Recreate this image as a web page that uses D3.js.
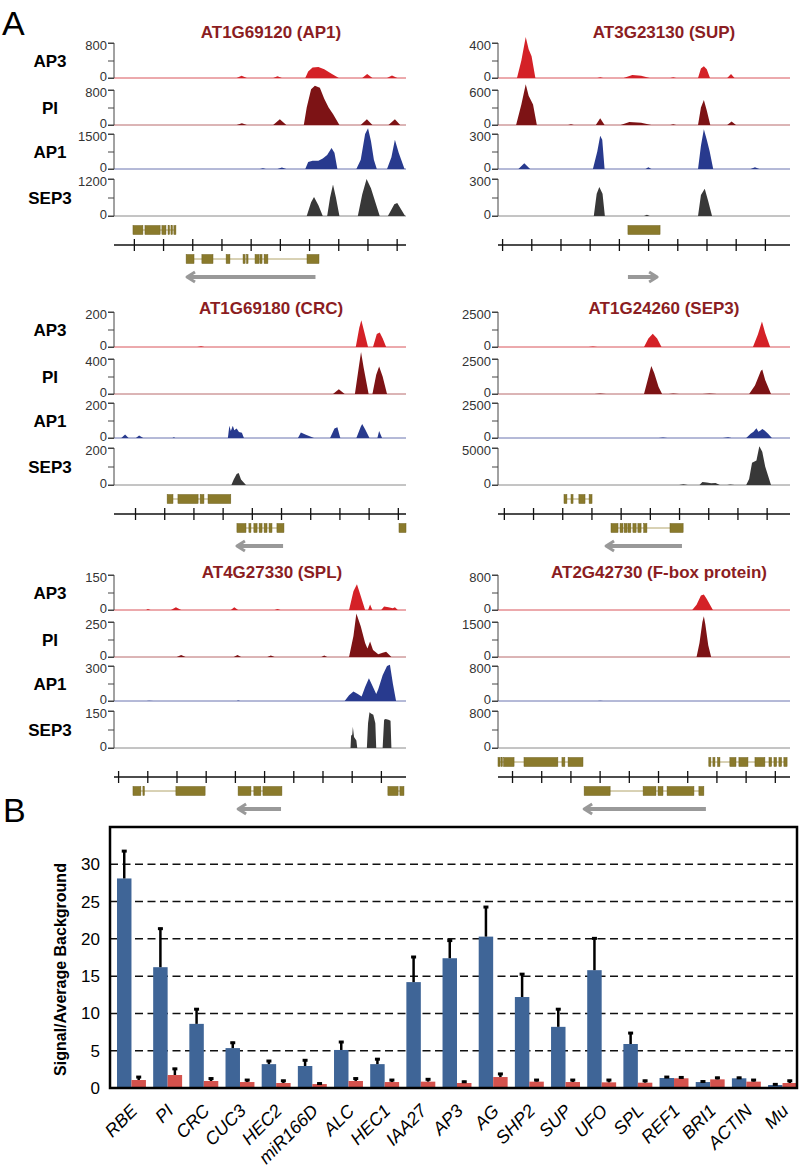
<!DOCTYPE html>
<html><head><meta charset="utf-8">
<script src="https://cdn.jsdelivr.net/npm/d3@7"></script>
<style>
body{margin:0;background:#fff}
svg{display:block}
text{font-family:"Liberation Sans",Arial,sans-serif}
</style>
</head><body>
<svg id="c" width="799" height="1169"></svg>
<script>
// ---------------- DATA: panel A ----------------
const trackNames = ["AP3","PI","AP1","SEP3"];
const panelTitles = ["AT1G69120 (AP1)","AT3G23130 (SUP)","AT1G69180 (CRC)","AT1G24260 (SEP3)","AT4G27330 (SPL)","AT2G42730 (F-box protein)"];
const axisMax = [[800,800,1500,1200],[400,600,300,300],[200,400,200,200],[2500,2500,2500,5000],[150,250,300,150],[800,1500,800,800]];
// genomic position of first ruler tick (kb, region spans 0-10)
const rulerStart = [0.68,0.14,0.72,0.2,0.14,0.48];

// coverage profiles [position kb, reads] for AP3, PI, AP1, SEP3
const sigAP1 = [
 [[0,0],[4.2,0],[4.37,50],[4.55,0],[5.45,0],[5.6,40],[5.75,0],[6.55,0],[6.65,150],[6.8,240],[7.0,250],[7.2,200],[7.45,100],[7.7,0],[8.5,0],[8.67,90],[8.85,0],[9.35,0],[9.52,60],[9.7,0],[10,0]],
 [[0,0],[4.2,0],[4.38,40],[4.55,0],[5.45,0],[5.68,130],[5.9,0],[6.5,0],[6.6,400],[6.75,820],[6.88,900],[7.05,850],[7.2,600],[7.35,400],[7.5,250],[7.72,0],[8.45,0],[8.66,130],[8.85,0],[9.4,0],[9.62,130],[9.8,0],[10,0]],
 [[0,0],[5.0,0],[5.1,30],[5.2,0],[5.6,0],[5.75,60],[5.9,0],[6.55,0],[6.65,300],[6.8,350],[7.0,350],[7.15,450],[7.3,600],[7.45,900],[7.55,700],[7.65,0],[8.3,0],[8.45,400],[8.6,1500],[8.7,1750],[8.8,1200],[8.9,400],[9.0,0],[9.35,0],[9.5,500],[9.62,1250],[9.75,700],[9.95,0],[10,0]],
 [[0,0],[6.6,0],[6.75,450],[6.85,620],[7.0,350],[7.15,0],[7.3,0],[7.4,600],[7.5,1020],[7.6,600],[7.72,0],[8.35,0],[8.5,700],[8.65,1200],[8.8,900],[9.1,0],[9.38,0],[9.6,380],[9.7,420],[9.97,0],[10,0]]
];
const sigSUP = [
 [[0,0],[0.65,0],[0.8,200],[0.95,470],[1.05,330],[1.15,250],[1.28,0],[3.4,0],[3.5,10],[3.6,0],[4.3,0],[4.6,35],[4.9,25],[5.2,0],[5.9,0],[6.0,10],[6.1,0],[6.85,0],[6.95,110],[7.05,135],[7.15,100],[7.26,0],[7.85,0],[7.98,45],[8.1,0],[10,0]],
 [[0,0],[0.62,0],[0.8,350],[0.95,700],[1.05,500],[1.2,350],[1.33,0],[2.4,0],[2.5,15],[2.6,0],[3.35,0],[3.5,115],[3.65,0],[4.2,0],[4.5,50],[4.9,40],[5.25,0],[5.9,0],[6.0,15],[6.1,0],[6.85,0],[6.95,300],[7.05,430],[7.15,250],[7.27,0],[7.85,0],[8.0,60],[8.15,0],[10,0]],
 [[0,0],[0.7,0],[0.9,50],[1.1,0],[3.25,0],[3.4,150],[3.5,285],[3.57,250],[3.65,0],[5.05,0],[5.15,15],[5.25,0],[6.85,0],[6.95,200],[7.05,340],[7.15,250],[7.25,150],[7.37,0],[8.65,0],[8.8,15],[8.95,0],[10,0]],
 [[0,0],[3.28,0],[3.38,180],[3.47,235],[3.58,180],[3.66,0],[5.0,0],[5.1,10],[5.2,0],[6.85,0],[6.95,170],[7.08,220],[7.2,120],[7.33,0],[10,0]]
];
const sigCRC = [
 [[0,0],[2.85,0],[2.98,5],[3.1,0],[8.28,0],[8.4,110],[8.47,153],[8.55,100],[8.7,0],[8.87,0],[9.0,75],[9.1,83],[9.2,50],[9.32,0],[10,0]],
 [[0,0],[7.5,0],[7.7,55],[7.9,0],[8.25,0],[8.38,300],[8.46,480],[8.55,300],[8.72,0],[8.85,0],[8.98,220],[9.08,315],[9.2,200],[9.35,0],[10,0]],
 [[0,0],[0.25,0],[0.38,20],[0.5,0],[0.75,0],[0.86,15],[1.0,0],[2.0,0],[2.05,4],[2.1,0],[3.9,0],[3.95,70],[4.0,40],[4.07,70],[4.12,45],[4.2,55],[4.28,35],[4.38,30],[4.45,0],[6.3,0],[6.4,32],[6.55,20],[6.85,0],[7.4,0],[7.55,55],[7.65,62],[7.75,0],[8.3,0],[8.45,65],[8.5,80],[8.6,50],[8.75,0],[9.02,0],[9.08,40],[9.18,0],[10,0]],
 [[0,0],[4.02,0],[4.1,30],[4.2,60],[4.27,65],[4.35,30],[4.52,0],[10,0]]
];
const sigSEP3 = [
 [[0,0],[3.1,0],[3.25,40],[3.4,0],[5.0,0],[5.15,600],[5.3,940],[5.45,600],[5.6,0],[8.73,0],[8.9,900],[9.04,1830],[9.15,1000],[9.32,0],[10,0]],
 [[0,0],[3.3,0],[3.5,40],[3.7,0],[5.0,0],[5.15,1200],[5.25,2000],[5.35,1500],[5.5,500],[5.62,0],[5.85,0],[6.0,40],[6.2,0],[7.0,0],[7.25,40],[7.5,0],[8.6,0],[8.8,600],[9.0,1650],[9.05,1750],[9.15,1000],[9.35,0],[10,0]],
 [[0,0],[5.5,0],[5.65,40],[5.8,0],[7.7,0],[7.88,50],[8.0,0],[8.5,0],[8.65,300],[8.75,450],[8.85,700],[8.92,450],[9.0,550],[9.05,650],[9.12,550],[9.25,300],[9.38,0],[10,0]],
 [[0,0],[6.2,0],[6.35,100],[6.5,0],[6.9,0],[7.0,420],[7.15,350],[7.3,250],[7.45,260],[7.6,0],[7.85,0],[7.95,80],[8.1,0],[8.5,0],[8.6,800],[8.7,3000],[8.85,3300],[8.95,5250],[9.05,4500],[9.15,2500],[9.35,0],[10,0]]
];
const sigSPL = [
 [[0,0],[1.1,0],[1.16,4],[1.25,0],[1.95,0],[2.12,12],[2.3,0],[4.0,0],[4.12,12],[4.25,0],[5.5,0],[5.6,4],[5.7,0],[8.05,0],[8.2,80],[8.32,110],[8.45,60],[8.6,0],[8.7,0],[8.77,24],[8.85,0],[9.15,0],[9.25,15],[9.4,12],[9.55,8],[9.62,12],[9.72,0],[10,0]],
 [[0,0],[2.15,0],[2.3,15],[2.45,0],[4.1,0],[4.23,15],[4.35,0],[5.25,0],[5.37,10],[5.5,0],[7.1,0],[7.2,10],[7.3,0],[8.05,0],[8.2,150],[8.3,310],[8.45,220],[8.6,100],[8.68,60],[8.77,110],[8.87,50],[9.05,20],[9.2,30],[9.32,38],[9.5,0],[10,0]],
 [[0,0],[1.1,0],[1.2,3],[1.35,0],[4.2,0],[4.25,4],[4.32,0],[7.9,0],[8.05,50],[8.2,82],[8.35,60],[8.48,38],[8.6,120],[8.73,195],[8.85,130],[8.98,60],[9.05,100],[9.2,220],[9.35,300],[9.45,310],[9.55,150],[9.66,0],[10,0]],
 [[0,0],[8.1,0],[8.12,50],[8.16,55],[8.18,86],[8.22,45],[8.3,30],[8.33,0],[8.66,0],[8.7,100],[8.75,145],[8.8,140],[8.88,135],[8.95,100],[8.98,0],[9.2,0],[9.25,115],[9.3,118],[9.4,115],[9.47,110],[9.5,0],[10,0]]
];
const sigFBOX = [
 [[0,0],[6.65,0],[6.8,120],[6.95,330],[7.05,355],[7.15,250],[7.36,0],[10,0]],
 [[0,0],[6.8,0],[6.9,600],[7.0,1500],[7.05,1750],[7.1,1400],[7.2,500],[7.3,0],[10,0]],
 [[0,0],[3.4,0],[3.5,6],[3.6,0],[10,0]],
 [[0,0],[10,0]]
];
const signals = [sigAP1, sigSUP, sigCRC, sigSEP3, sigSPL, sigFBOX];

// gene models: each gene = list of exons [start, end] (kb); above / below ruler
const genesAbove = [
 [[[0.65,0.99],[1.06,1.58],[1.64,1.78],[1.85,1.9],[1.95,2.0],[2.05,2.12]]],
 [[[4.45,5.55]]],
 [[[1.82,2.02],[2.19,2.88],[2.95,3.08],[3.22,4.0]]],
 [[[2.26,2.36],[2.5,2.57],[2.77,2.98],[3.12,3.22]]],
 [],
 [[[0,0.07],[0.1,0.15],[0.19,0.55],[0.89,2.05],[2.19,2.29],[2.4,2.91]],
  [[7.22,7.29],[7.36,7.43],[7.52,7.6],[7.94,8.15],[8.25,8.56],[8.8,9.14],[9.28,9.37],[9.45,9.54],[9.62,9.71],[9.79,9.9]]]
];
const genesBelow = [
 [[[2.47,2.74],[3.01,3.39],[3.84,3.97],[4.42,4.49],[4.54,4.59],[4.83,4.97],[5.0,5.07],[5.14,5.27],[6.61,7.02]]],
 [],
 [[[4.21,4.52],[4.62,4.69],[4.79,4.9],[4.97,5.07],[5.14,5.24],[5.31,5.41],[5.58,5.82]],[[9.76,10.0]]],
 [[[3.87,4.11],[4.18,4.28],[4.32,4.42],[4.45,4.55],[4.62,4.73],[4.79,4.9],[4.99,5.1],[5.89,6.34]]],
 [[[0.65,0.92],[0.99,1.04],[2.12,3.12]],[[4.25,4.69],[4.79,5.03],[5.1,5.75]],[[9.38,9.73],[9.79,9.93]]],
 [[[2.95,3.84],[4.97,5.41],[5.48,5.65],[5.79,6.71],[6.88,7.05]]]
];
// transcription direction arrows [from, to] (kb)
const strandArrows = [[6.9,2.5],[4.45,5.45],[5.79,4.21],[6.3,3.7],[5.72,4.25],[7.12,2.95]];

// ---------------- DATA: panel B ----------------
const loci = ["RBE","PI","CRC","CUC3","HEC2","miR166D","ALC","HEC1","IAA27","AP3","AG","SHP2","SUP","UFO","SPL","REF1","BRI1","ACTIN","Mu"];
const chipVals = [28.1,16.2,8.6,5.35,3.2,2.95,5.1,3.2,14.2,17.4,20.3,12.2,8.2,15.8,5.9,1.34,0.8,1.3,0.4];
const chipErr  = [3.8,5.3,2.1,0.85,0.55,0.9,1.2,0.8,3.5,2.5,4.1,3.2,2.5,4.4,1.6,0.26,0.2,0.2,0.22];
const ctrlVals = [1.07,1.74,0.94,0.8,0.67,0.53,0.94,0.8,0.85,0.67,1.47,0.85,0.8,0.76,0.71,1.3,1.16,0.85,0.67];
const ctrlErr  = [0.53,0.96,0.46,0.4,0.43,0.2,0.46,0.4,0.45,0.3,0.55,0.35,0.4,0.44,0.39,0.25,0.34,0.35,0.43];
const yTicksB = [0,5,10,15,20,25,30];

// ---------------- DRAW ----------------
const svg = d3.select("#c");
const trackColor = ["#d42127","#7d1315","#283a8e","#383838"];
const baseColor  = ["#d9555a","#b86a6c","#6b74b0","#8a8a8a"];
const colLeft = [114, 498], colWidth = 292;
const rowBase = [78, 347, 610];
const trackOff = [0, 47, 91, 138];
const trackH = [35, 35, 35, 37];
const titleY = [32, 308, 572];
const titleX = [271, 664, 271, 664, 272, 659];

svg.append("text").attr("x",2).attr("y",35).attr("font-size",34).text("A");
svg.append("text").attr("x",3).attr("y",822).attr("font-size",34).text("B");

signals.forEach((sig, p) => {
  const col = p % 2, row = Math.floor(p / 2);
  const left = colLeft[col], right = left + colWidth;
  const x = d3.scaleLinear().domain([0,10]).range([left, right]);
  const g = svg.append("g");
  g.append("text").attr("x", titleX[p]).attr("y", titleY[row] + 6)
    .attr("text-anchor","middle").attr("font-size",17).attr("font-weight","bold")
    .attr("fill","#8b1d22").text(panelTitles[p]);

  sig.forEach((pts, t) => {
    const base = rowBase[row] + trackOff[t];
    const y = d3.scaleLinear().domain([0, axisMax[p][t]]).range([base, base - trackH[t]]);
    g.append("line").attr("x1",left).attr("x2",right).attr("y1",base).attr("y2",base)
      .attr("stroke",baseColor[t]).attr("stroke-width",1);
    const area = d3.area().x(d => x(d[0])).y0(base).y1(d => y(d[1])).curve(d3.curveLinear);
    g.append("path").datum(pts).attr("d", area).attr("fill", trackColor[t]);
    const ax = d3.axisLeft(y).tickValues([0, axisMax[p][t]/2, axisMax[p][t]])
      .tickSize(6).tickFormat((d,i) => i === 1 ? "" : d);
    const ag = g.append("g").attr("transform",`translate(${left},0)`).call(ax);
    ag.select(".domain").attr("stroke","#444").attr("d",`M-6,${y(axisMax[p][t])}H0V${base}H-6`);
    ag.selectAll(".tick line").attr("stroke","#444");
    ag.selectAll(".tick text").attr("font-size",13).attr("fill","#333")
      .attr("font-family","'Liberation Sans',Arial,sans-serif").attr("x",-7)
      .attr("y", (d,i) => i === 0 ? -2 : (i === 2 ? 2 : 0));
    if (col === 0) {
      g.append("text").attr("x",50).attr("y", base - trackH[t]/2 + 6)
        .attr("text-anchor","middle").attr("font-size",17).attr("font-weight","bold")
        .text(trackNames[t]);
    }
  });

  // ruler
  const ry = rowBase[row] + 167;
  const ticks = d3.range(10).map(i => rulerStart[p] + i);
  const rax = d3.axisBottom(x).tickValues(ticks).tickSize(5).tickFormat("");
  const rg = g.append("g").attr("transform",`translate(0,${ry})`).call(rax);
  rg.select(".domain").attr("d",`M${left},0H${right}`).attr("stroke","#111").attr("stroke-width",1.3);
  rg.selectAll(".tick line").attr("y1",-6).attr("y2",6).attr("stroke","#111").attr("stroke-width",1.3);

  // gene models
  const drawGenes = (genes, cy) => {
    genes.forEach(ex => {
      g.append("line").attr("x1", x(ex[0][0])).attr("x2", x(ex[ex.length-1][1]))
        .attr("y1", cy).attr("y2", cy).attr("stroke","#a99a5a").attr("stroke-width",0.9);
      g.selectAll(null).data(ex).enter().append("rect")
        .attr("x", d => x(d[0])).attr("width", d => Math.max(1.2, x(d[1]) - x(d[0])))
        .attr("y", cy - 4.5).attr("height", 9)
        .attr("fill","#8a7a2c").attr("stroke","#6e611f").attr("stroke-width",0.5);
    });
  };
  drawGenes(genesAbove[p], rowBase[row] + 152);
  drawGenes(genesBelow[p], rowBase[row] + 181);

  // arrow
  const ay = rowBase[row] + 199;
  const [a0, a1] = strandArrows[p];
  const dir = a1 > a0 ? 1 : -1;
  const xa0 = x(a0), xa1 = x(a1);
  g.append("line").attr("x1",xa0).attr("x2",xa1 - dir*1).attr("y1",ay).attr("y2",ay)
    .attr("stroke","#999").attr("stroke-width",4);
  g.append("path").attr("d",`M${xa1 - dir*8},${ay-5}L${xa1},${ay}L${xa1 - dir*8},${ay+5}`)
    .attr("fill","none").attr("stroke","#999").attr("stroke-width",3).attr("stroke-linejoin","round");
});

// ---------------- PANEL B ----------------
const fx = {l:110, r:797, t:827, b:1088};
const yB = d3.scaleLinear().domain([0,35]).range([fx.b, fx.t]);
const xB = d3.scaleBand().domain(loci).range([117, 797]).paddingInner(0.2).paddingOuter(0);
const xs = d3.scaleBand().domain(["chip","ctrl"]).range([0, xB.bandwidth()]);
const gb = svg.append("g");

gb.selectAll(".grid").data(yTicksB.filter(v => v > 0)).enter().append("line")
  .attr("x1", fx.l).attr("x2", fx.r).attr("y1", d => yB(d)).attr("y2", d => yB(d))
  .attr("stroke","#111").attr("stroke-width",1.5).attr("stroke-dasharray","8,4.5");

const barData = [];
loci.forEach((k,i) => {
  barData.push({k, s:"chip", v:chipVals[i], e:chipErr[i], c:"#3f6597"});
  barData.push({k, s:"ctrl", v:ctrlVals[i], e:ctrlErr[i], c:"#d4524d"});
});
gb.selectAll(".bar").data(barData).enter().append("rect")
  .attr("x", d => xB(d.k) + xs(d.s)).attr("width", xs.bandwidth())
  .attr("y", d => yB(d.v)).attr("height", d => yB(0) - yB(d.v)).attr("fill", d => d.c);
gb.selectAll(".err").data(barData).enter().append("line")
  .attr("x1", d => xB(d.k) + xs(d.s) + xs.bandwidth()/2).attr("x2", d => xB(d.k) + xs(d.s) + xs.bandwidth()/2)
  .attr("y1", d => yB(d.v)).attr("y2", d => yB(d.v + d.e)).attr("stroke","#000").attr("stroke-width",2.5);
gb.selectAll(".cap").data(barData).enter().append("line")
  .attr("x1", d => xB(d.k) + xs(d.s) + xs.bandwidth()/2 - 2.5).attr("x2", d => xB(d.k) + xs(d.s) + xs.bandwidth()/2 + 2.5)
  .attr("y1", d => yB(d.v + d.e) + 1).attr("y2", d => yB(d.v + d.e) + 1).attr("stroke","#000").attr("stroke-width",3);

gb.append("rect").attr("x",fx.l).attr("y",fx.t).attr("width",fx.r-fx.l).attr("height",fx.b-fx.t)
  .attr("fill","none").attr("stroke","#000").attr("stroke-width",2.5);

gb.selectAll(".yl").data(yTicksB).enter().append("text")
  .attr("x", 100).attr("y", d => yB(d) + 6).attr("text-anchor","end").attr("font-size",17).text(d => d);

gb.append("text").attr("transform",`translate(66,${(fx.t+fx.b)/2 + 12}) rotate(-90)`)
  .attr("text-anchor","middle").attr("font-size",16).attr("font-weight","bold")
  .text("Signal/Average Background");

gb.selectAll(".xl").data(loci).enter().append("text")
  .attr("transform", d => `translate(${xB(d) + xB.bandwidth()/2 + 7},${fx.b + 24}) rotate(-45)`)
  .attr("text-anchor","end").attr("font-size",18).attr("font-style","italic").text(d => d);
</script>
</body></html>
